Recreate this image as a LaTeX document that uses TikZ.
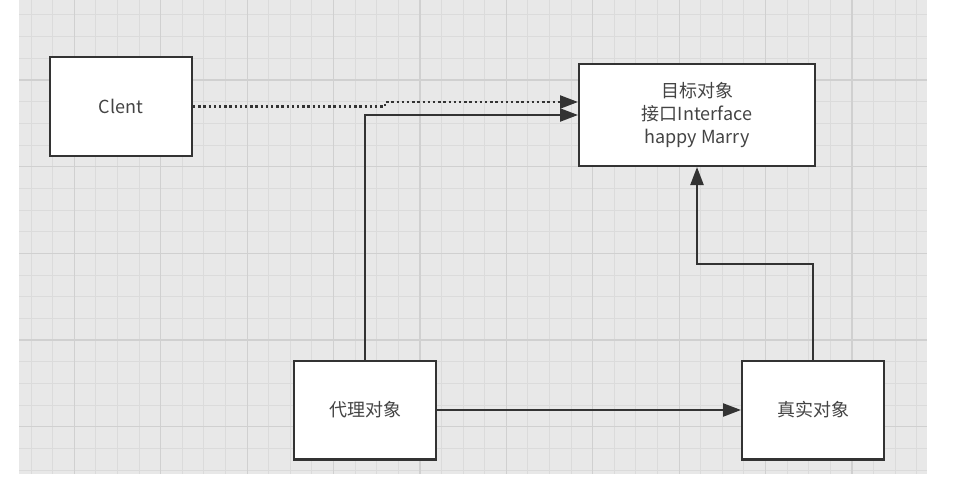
\documentclass[tikz,border=0pt]{standalone}
\usepackage{fontspec}
\setmainfont{Noto Sans CJK SC}
\usetikzlibrary{arrows.meta}

\definecolor{gridbg}{HTML}{E8E8E8}
\definecolor{gridminor}{HTML}{DBDBDB}
\definecolor{gridmajor}{HTML}{D0D0D0}
\definecolor{boxline}{HTML}{333333}
\definecolor{txt}{HTML}{444444}

\begin{document}
\begin{tikzpicture}[x=1pt, y=-1pt,
    main/.style = {draw=boxline, line width=2.4pt, fill=white, minimum width=141.6pt, minimum height=98.6pt,
        inner sep=0pt, align=center, text=txt, font=\fontsize{18}{23}\selectfont},
    conn/.style = {draw=boxline, line width=2.3pt, -{Triangle[length=18pt,width=13pt]}}]
    \useasboundingbox (0,0) rectangle (973,479);

    % grid paper
    \fill[gridbg] (19,0) rectangle (927,474);
    \foreach \i in {-2,...,39} \draw[gridminor, line width=1pt] ({74.3+21.6*\i},0) -- ++(0,474);
    \foreach \j in {-3,...,18} \draw[gridminor, line width=1pt] (19,{80+21.67*\j}) -- ++(908,0);
    \foreach \i in {0,4,...,36} \draw[gridmajor, line width=1.2pt] ({74.3+21.6*\i},0) -- ++(0,474);
    \foreach \j in {0,4,...,16} \draw[gridmajor, line width=1.2pt] (19,{80+21.67*\j}) -- ++(908,0);

    \node[main] (n_client) at (121,106.5) {Clent};
    \node[main, minimum width=235.6pt, minimum height=101.6pt] (n_target) at (697,115) {目标对象\\接口Interface\\happy Marry};
    \node[main] (n_proxy) at (365,410) {代理对象};
    \node[main] (n_real) at (813,410) {真实对象};

    \draw[conn, dash pattern=on 2.4pt off 2.8pt] (n_client.east) -- ++(192,0) |- ([yshift=13pt]n_target.west);
    \draw[conn] (n_proxy.north) |- (n_target.west);
    \draw[conn] (n_proxy) -- (n_real);
    \draw[conn] (n_real.north) -- ++(0,-95.5) -| (n_target.south);
\end{tikzpicture}
\end{document}
